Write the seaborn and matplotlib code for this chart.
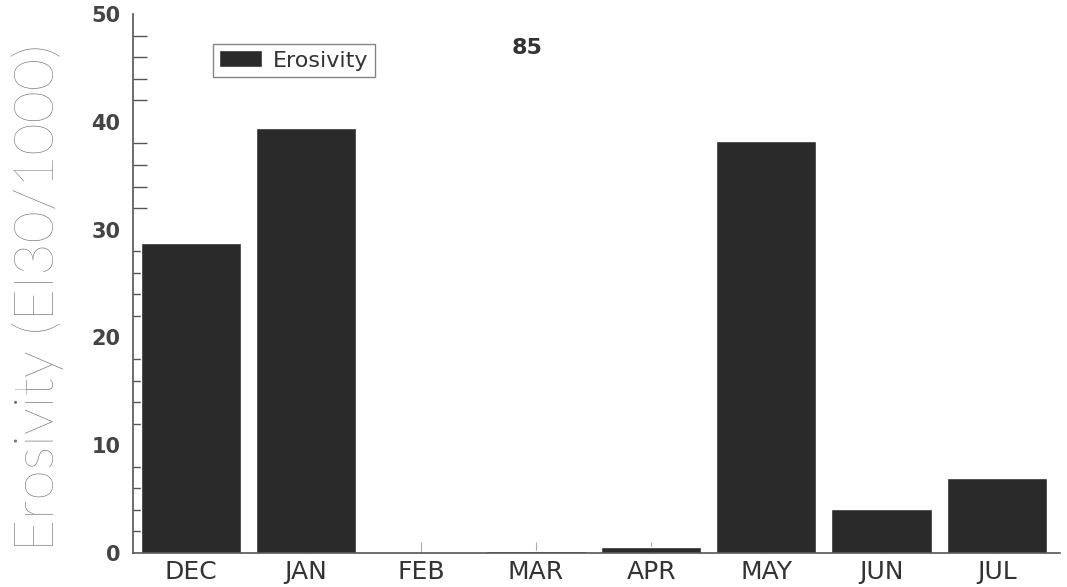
import matplotlib
matplotlib.use("Agg")
import matplotlib.pyplot as plt
import seaborn as sns
import pandas as pd
from matplotlib.ticker import MultipleLocator

months = ["DEC", "JAN", "FEB", "MAR", "APR", "MAY", "JUN", "JUL"]
erosivity = [28.8, 39.4, 0.0, 0.15, 0.55, 38.2, 4.1, 7.0]
y_ticks = [0, 10, 20, 30, 40, 50]
year_label = "85"
series_name = "Erosivity"
y_title = "Erosivity (EI30/1000)"

df = pd.DataFrame({"month": months, "value": erosivity})

sns.set_style("white")
plt.rcParams['font.family'] = ['DejaVu Sans']

fig = plt.figure(figsize=(10.67, 5.87), dpi=100)
ax = fig.add_axes([0.1247, 0.0579, 0.8687, 0.9182])

sns.barplot(data=df, x="month", y="value", order=months, color="#2a2a2a",
            saturation=1, width=0.87, ax=ax, label=series_name)

ax.set_ylim(0, 50)
ax.set_xlim(-0.5, 7.55)
ax.set_yticks(y_ticks)
ax.yaxis.set_minor_locator(MultipleLocator(2))
ax.tick_params(axis="y", which="major", direction="in", length=20, width=1.2,
               color="#555555", labelsize=15, labelcolor="#444444", pad=9)
ax.tick_params(axis="y", which="minor", direction="in", length=10, width=1.0,
               color="#555555", left=True)
ax.tick_params(axis="x", which="major", direction="in", length=8, width=0.8,
               color="#aaaaaa", labelsize=18, labelcolor="#333333", pad=5, bottom=True)
for lbl in ax.get_yticklabels():
    lbl.set_fontweight("bold")

for side in ["top", "right"]:
    ax.spines[side].set_visible(False)
ax.spines["left"].set_color("#555555")
ax.spines["left"].set_linewidth(1.2)
ax.spines["bottom"].set_color("#555555")
ax.spines["bottom"].set_linewidth(1.2)

ax.set_xlabel("")
ax.set_ylabel(y_title, fontsize=40, color="#707070", fontweight="light",
              family=["Lato", "DejaVu Sans"])
ax.yaxis.set_label_coords(-0.0745, 0.475)

leg = ax.legend(loc="upper left", bbox_to_anchor=(0.086, 0.945), frameon=True,
                fancybox=False, edgecolor="#666666", fontsize=16,
                handlelength=1.9, handleheight=0.8, borderpad=0.3,
                handletextpad=0.5, borderaxespad=0)
leg.get_frame().set_linewidth(1.0)
for t in leg.get_texts():
    t.set_color("#333333")

ax.text(0.425, 0.937, year_label, transform=ax.transAxes, fontsize=16,
        fontweight="bold", color="#333333", ha="center", va="center")

fig.savefig("out.png", dpi=100, facecolor="white")
